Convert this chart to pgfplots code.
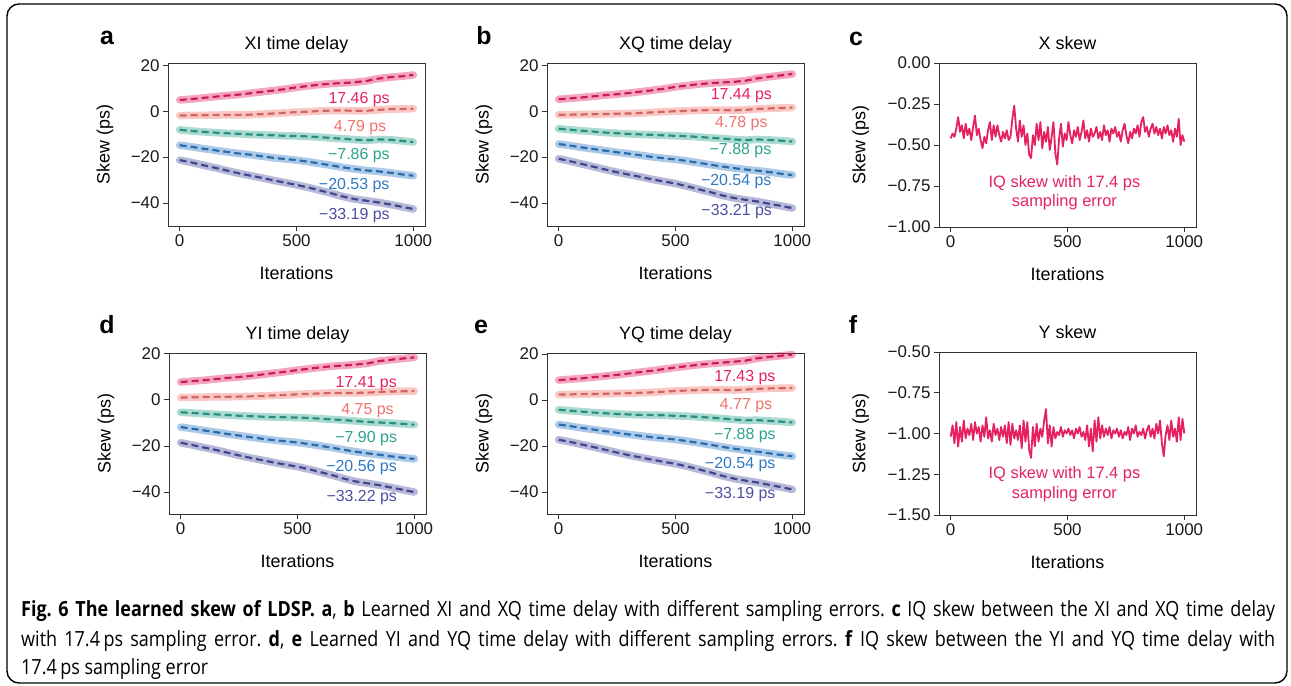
\documentclass[border=0pt]{standalone}
\usepackage{fontspec}
\setmainfont{Liberation Sans}
\newfontfamily\capfont[FakeStretch=0.86]{Open Sans}
\usepackage{pgfplots}
\usepackage{pgfplotstable}
\pgfplotsset{compat=1.18}
\definecolor{cpink}{HTML}{E5215F}
\definecolor{csalmon}{HTML}{F0726C}
\definecolor{cteal}{HTML}{2BA38C}
\definecolor{cblue}{HTML}{2F79C3}
\definecolor{cpurple}{HTML}{4C4F9F}
\definecolor{axgray}{HTML}{333333}
\newcommand\fs[1]{\fontsize{#1}{#1}\selectfont}

% learned delays, one table per panel: p=17.4, s=4.8, t=-7.9, b=-20.5, v=-33.2 ps
\pgfplotstableread{
x p s t b v
0 4.9 -1.9 -8.1 -14.8 -21.3
50 5.3 -1.8 -8.6 -15.5 -22.3
100 5.8 -1.8 -9.0 -16.3 -23.5
150 6.3 -1.7 -9.3 -17.0 -24.6
200 6.8 -1.6 -9.6 -17.7 -25.8
250 7.2 -1.6 -9.8 -18.4 -27.0
300 7.8 -1.5 -10.1 -18.9 -28.0
350 8.4 -1.3 -10.3 -19.6 -29.0
400 9.0 -1.0 -10.5 -20.3 -30.1
450 9.6 -0.7 -10.7 -20.8 -31.1
500 10.4 -0.4 -10.8 -21.3 -32.1
550 11.0 -0.2 -11.0 -22.0 -33.2
600 11.6 0.1 -11.3 -22.8 -34.5
650 12.0 0.3 -11.7 -23.6 -35.8
700 12.3 0.3 -12.0 -24.5 -37.2
750 12.6 0.2 -12.4 -25.2 -38.3
800 13.2 0.2 -12.7 -25.8 -39.0
850 14.2 0.6 -12.3 -26.2 -39.7
900 14.8 0.9 -12.4 -26.8 -40.6
950 15.2 1.0 -12.9 -27.5 -41.6
1000 15.8 1.1 -13.4 -28.1 -42.6
}\tabA
\pgfplotstableread{
x p s t b v
0 5.2 -1.5 -7.6 -14.3 -20.7
50 5.6 -1.5 -8.1 -15.0 -21.8
100 6.0 -1.4 -8.5 -15.8 -23.0
150 6.5 -1.3 -8.9 -16.5 -24.2
200 7.0 -1.2 -9.3 -17.2 -25.4
250 7.4 -1.1 -9.6 -17.9 -26.6
300 7.9 -1.0 -9.9 -18.5 -27.6
350 8.5 -0.8 -10.1 -19.2 -28.6
400 9.1 -0.5 -10.3 -19.9 -29.7
450 9.8 -0.2 -10.5 -20.5 -30.6
500 10.6 0.0 -10.7 -21.0 -31.5
550 11.2 0.2 -10.9 -21.7 -32.7
600 11.8 0.4 -11.2 -22.5 -34.0
650 12.2 0.5 -11.6 -23.3 -35.3
700 12.5 0.5 -11.9 -24.1 -36.7
750 12.8 0.4 -12.3 -24.8 -37.8
800 13.3 0.6 -12.6 -25.4 -38.6
850 14.3 1.0 -12.3 -25.9 -39.3
900 15.0 1.2 -12.5 -26.5 -40.3
950 15.6 1.4 -12.8 -27.2 -41.2
1000 16.2 1.6 -13.2 -27.8 -42.2
}\tabB
\pgfplotstableread{
x p s t b v
0 7.7 1.0 -5.4 -11.8 -18.6
50 8.1 1.1 -5.7 -12.5 -19.6
100 8.5 1.2 -6.0 -13.3 -20.7
150 9.0 1.3 -6.3 -14.0 -21.7
200 9.5 1.3 -6.6 -14.8 -22.9
250 9.9 1.4 -6.9 -15.5 -24.1
300 10.4 1.5 -7.1 -16.2 -25.2
350 11.0 1.7 -7.3 -16.9 -26.2
400 11.6 1.9 -7.5 -17.5 -27.2
450 12.2 2.1 -7.6 -18.0 -28.1
500 12.9 2.4 -7.7 -18.5 -29.0
550 13.5 2.6 -7.9 -19.2 -30.1
600 14.1 2.8 -8.2 -20.0 -31.4
650 14.6 3.0 -8.5 -20.8 -32.7
700 14.9 3.0 -8.8 -21.7 -34.2
750 15.3 3.0 -9.2 -22.5 -35.4
800 15.8 3.1 -9.6 -23.2 -36.2
850 16.8 3.4 -9.8 -23.8 -37.0
900 17.4 3.6 -10.1 -24.5 -38.0
950 17.9 3.7 -10.4 -25.1 -39.0
1000 18.4 3.8 -10.8 -25.6 -40.0
}\tabD
\pgfplotstableread{
x p s t b v
0 8.7 2.4 -4.2 -10.6 -17.2
50 9.1 2.5 -4.6 -11.3 -18.2
100 9.5 2.6 -5.0 -12.1 -19.3
150 10.0 2.7 -5.4 -12.8 -20.4
200 10.5 2.8 -5.7 -13.5 -21.6
250 11.0 2.9 -6.0 -14.2 -22.8
300 11.6 3.0 -6.2 -14.9 -23.9
350 12.2 3.2 -6.4 -15.5 -24.9
400 12.8 3.4 -6.5 -16.1 -25.9
450 13.5 3.7 -6.6 -16.6 -26.8
500 14.2 4.0 -6.8 -17.1 -27.7
550 14.8 4.2 -7.0 -17.8 -28.8
600 15.4 4.4 -7.3 -18.6 -30.1
650 15.9 4.5 -7.6 -19.4 -31.4
700 16.3 4.5 -8.0 -20.3 -32.9
750 16.7 4.4 -8.4 -21.1 -34.1
800 17.2 4.6 -8.8 -21.8 -35.0
850 18.2 4.9 -8.7 -22.4 -35.8
900 18.8 5.1 -9.0 -23.1 -36.8
950 19.3 5.2 -9.3 -23.8 -37.8
1000 19.8 5.3 -9.7 -24.4 -38.8
}\tabE

% IQ skew, X and Y polarisation
\pgfplotstableread{
x y
0 -0.46
8 -0.43
16 -0.45
24 -0.40
32 -0.33
40 -0.42
48 -0.38
56 -0.46
64 -0.37
72 -0.44
80 -0.40
88 -0.47
96 -0.39
104 -0.32
112 -0.44
120 -0.40
128 -0.47
136 -0.52
144 -0.45
152 -0.49
160 -0.41
168 -0.36
176 -0.47
184 -0.38
192 -0.45
200 -0.38
208 -0.44
216 -0.48
224 -0.42
232 -0.46
240 -0.41
248 -0.47
256 -0.45
264 -0.34
272 -0.26
280 -0.40
288 -0.48
296 -0.35
304 -0.45
312 -0.38
320 -0.50
328 -0.43
336 -0.56
344 -0.58
352 -0.44
360 -0.50
368 -0.37
376 -0.47
384 -0.36
392 -0.52
400 -0.42
408 -0.48
416 -0.39
424 -0.53
432 -0.45
440 -0.36
448 -0.55
456 -0.62
464 -0.46
472 -0.37
480 -0.51
488 -0.43
496 -0.47
504 -0.36
512 -0.44
520 -0.49
528 -0.41
536 -0.45
544 -0.39
552 -0.47
560 -0.42
568 -0.35
576 -0.46
584 -0.41
592 -0.48
600 -0.40
608 -0.45
616 -0.43
624 -0.39
632 -0.46
640 -0.42
648 -0.47
656 -0.38
664 -0.44
672 -0.41
680 -0.48
688 -0.40
696 -0.43
704 -0.39
712 -0.45
720 -0.42
728 -0.48
736 -0.41
744 -0.37
752 -0.44
760 -0.49
768 -0.42
776 -0.46
784 -0.40
792 -0.43
800 -0.38
808 -0.45
816 -0.36
824 -0.33
832 -0.42
840 -0.39
848 -0.45
856 -0.40
864 -0.37
872 -0.43
880 -0.39
888 -0.44
896 -0.40
904 -0.46
912 -0.39
920 -0.43
928 -0.38
936 -0.44
944 -0.41
952 -0.48
960 -0.40
968 -0.45
976 -0.34
984 -0.50
992 -0.44
1000 -0.48
}\tabC
\pgfplotstableread{
x y
0 -1.02
8 -0.95
16 -1.06
24 -0.93
32 -1.08
40 -0.96
48 -1.05
56 -0.92
64 -1.03
72 -0.97
80 -1.01
88 -0.94
96 -1.04
104 -0.93
112 -1.00
120 -0.96
128 -1.05
136 -0.95
144 -1.02
152 -0.90
160 -1.03
168 -0.98
176 -1.05
184 -0.94
192 -1.01
200 -0.97
208 -1.04
216 -0.96
224 -1.02
232 -0.95
240 -1.06
248 -0.93
256 -1.07
264 -0.94
272 -1.03
280 -0.98
288 -1.04
296 -0.95
304 -1.09
312 -0.92
320 -1.05
328 -0.93
336 -1.10
344 -1.15
352 -0.96
360 -1.08
368 -0.94
376 -1.05
384 -0.97
392 -1.02
400 -0.92
408 -0.85
416 -1.06
424 -0.95
432 -1.08
440 -0.96
448 -1.03
456 -0.99
464 -1.01
472 -0.96
480 -1.02
488 -0.98
496 -1.00
504 -0.97
512 -1.01
520 -0.98
528 -1.03
536 -0.97
544 -1.00
552 -0.96
560 -1.02
568 -0.99
576 -1.04
584 -0.95
592 -1.08
600 -0.97
608 -1.11
616 -0.92
624 -1.05
632 -0.90
640 -1.03
648 -0.95
656 -1.02
664 -0.97
672 -1.01
680 -0.96
688 -1.03
696 -0.98
704 -1.00
712 -0.97
720 -1.02
728 -0.98
736 -1.03
744 -0.99
752 -1.01
760 -0.96
768 -1.04
776 -0.97
784 -1.00
792 -0.95
800 -1.02
808 -0.99
816 -1.01
824 -0.97
832 -1.03
840 -0.98
848 -0.95
856 -1.02
864 -0.97
872 -1.03
880 -0.94
888 -1.00
896 -0.92
904 -1.06
912 -1.14
920 -1.01
928 -0.95
936 -1.04
944 -0.92
952 -1.02
960 -0.97
968 -1.05
976 -0.90
984 -1.04
992 -0.91
1000 -1.00
}\tabF

\pgfplotsset{
  skewax/.style={scale only axis, width=257bp, height=163bp, anchor=north west,
    xmin=-50, xmax=1050, xtick={0,500,1000}, xticklabels={0,500,1000},
    tick align=outside, xtick pos=bottom, ytick pos=left, major tick length=5bp,
    every tick/.style={axgray, line width=0.9bp},
    axis line style={axgray, line width=0.9bp},
    tick label style={font=\fs{17}, text=black!90},
    label style={font=\fs{18}},
    title style={font=\fs{18}, at={(0.5,1)}, anchor=base, yshift=8bp},
    xlabel={Iterations}, ylabel={Skew (ps)},
    xlabel style={at={(axis description cs:0.5,-0.29)}, anchor=center},
    clip=false},
  delayax/.style={skewax, ymin=-50, ymax=21,
    ytick={-40,-20,0,20}, yticklabels={−40,−20,0,20},
    ylabel style={at={(axis description cs:-0.245,0.5)}, anchor=center}},
  iqax/.style={skewax,
    ylabel style={at={(axis description cs:-0.305,0.5)}, anchor=center}}
}
\tikzset{ann/.style={font=\fs{16}, anchor=center, yshift=-3bp}}
\newcommand\pair[3]{%
  \addplot[#1, line width=7.5bp, opacity=0.4, line cap=round, line join=round] table[x=x,y=#2]{#3};
  \addplot[#1!88!black, line width=2.2bp, dash pattern=on 7bp off 4bp] table[x=x,y=#2]{#3};
}
\newcommand\five[1]{%
  \pair{cpink}{p}{#1}\pair{csalmon}{s}{#1}\pair{cteal}{t}{#1}\pair{cblue}{b}{#1}\pair{cpurple}{v}{#1}
}

\begin{document}
\frenchspacing
\begin{tikzpicture}
\useasboundingbox (0,0) rectangle (1291bp,-686bp);
\draw[line width=1.4bp, rounded corners=12bp] (7bp,-4bp) rectangle (1287bp,-683bp);

% panel letters
\foreach \l/\px/\py in {a/107/44, b/484/44, c/856/45, d/107/333, e/481/333, f/853/333}
  \node[anchor=base, font=\bfseries\fs{25}, inner sep=0] at (\px bp,-\py bp) {\l};

% a
\begin{axis}[delayax, at={(168bp,-63bp)}, title={XI time delay}]
\five{\tabA}
\node[ann, text=cpink] at (axis cs:768,6.3) {17.46 ps};
\node[ann, text=csalmon] at (axis cs:772,-5.8) {4.79 ps};
\node[ann, text=cteal] at (axis cs:767,-18.2) {−7.86 ps};
\node[ann, text=cblue] at (axis cs:747,-31.1) {−20.53 ps};
\node[ann, text=cpurple] at (axis cs:748,-44.0) {−33.19 ps};
\end{axis}

% b
\begin{axis}[delayax, at={(547bp,-63bp)}, title={XQ time delay}]
\five{\tabB}
\node[ann, text=cpink] at (axis cs:782,8.0) {17.44 ps};
\node[ann, text=csalmon] at (axis cs:782,-4.0) {4.78 ps};
\node[ann, text=cteal] at (axis cs:778,-16.0) {−7.88 ps};
\node[ann, text=cblue] at (axis cs:760,-29.3) {−20.54 ps};
\node[ann, text=cpurple] at (axis cs:762,-42.3) {−33.21 ps};
\end{axis}

% c
\begin{axis}[iqax, at={(939bp,-63bp)}, height=164bp, title={X skew},
  ymin=-1, ymax=0, ytick={-1,-0.75,-0.5,-0.25,0},
  yticklabels={−1.00,−0.75,−0.50,−0.25,0.00}]
\addplot[cpink, line width=1.8bp, line join=round] table[x=x,y=y]{\tabC};
\node[text=cpink, align=center, font={\fontsize{16.5}{19.5}\selectfont}] at (axis cs:487,-0.79) {IQ skew with 17.4 ps\\sampling error};
\end{axis}

% d
\begin{axis}[delayax, at={(169bp,-353bp)}, height=161bp, ymin=-49.5, ymax=20.3, title={YI time delay}]
\five{\tabD}
\node[ann, text=cpink] at (axis cs:794,8.5) {17.41 ps};
\node[ann, text=csalmon] at (axis cs:800,-3.3) {4.75 ps};
\node[ann, text=cteal] at (axis cs:794,-15.7) {−7.90 ps};
\node[ann, text=cblue] at (axis cs:774,-28.2) {−20.56 ps};
\node[ann, text=cpurple] at (axis cs:775,-41.2) {−33.22 ps};
\end{axis}

% e
\begin{axis}[delayax, at={(547bp,-353bp)}, height=161bp, ymin=-49.5, ymax=20.5, title={YQ time delay}]
\five{\tabE}
\node[ann, text=cpink] at (axis cs:797,11.3) {17.43 ps};
\node[ann, text=csalmon] at (axis cs:802,-1.0) {4.77 ps};
\node[ann, text=cteal] at (axis cs:797,-13.9) {−7.88 ps};
\node[ann, text=cblue] at (axis cs:777,-26.5) {−20.54 ps};
\node[ann, text=cpurple] at (axis cs:777,-39.6) {−33.19 ps};
\end{axis}

% f
\begin{axis}[iqax, at={(939bp,-352bp)}, title={Y skew},
  ymin=-1.5, ymax=-0.5, ytick={-1.5,-1.25,-1,-0.75,-0.5},
  yticklabels={−1.50,−1.25,−1.00,−0.75,−0.50}]
\addplot[cpink, line width=1.8bp, line join=round] table[x=x,y=y]{\tabF};
\node[text=cpink, align=center, font={\fontsize{16.5}{19.5}\selectfont}] at (axis cs:487,-1.31) {IQ skew with 17.4 ps\\sampling error};
\end{axis}

% caption
\begin{scope}[every node/.style={anchor=base west, inner sep=0, font=\capfont\fs{21}}]
\node at (21bp,-616bp) {\makebox[1254bp][s]{\textbf{Fig. 6 The learned skew of LDSP. a}, \textbf{b} Learned XI and XQ time delay with different sampling errors. \textbf{c} IQ skew between the XI and XQ time delay}};
\node at (21bp,-646bp) {\makebox[1254bp][s]{with 17.4\,ps sampling error. \textbf{d}, \textbf{e} Learned YI and YQ time delay with different sampling errors. \textbf{f} IQ skew between the YI and YQ time delay with}};
\node at (21bp,-674bp) {17.4\,ps sampling error};
\end{scope}
\end{tikzpicture}
\end{document}
